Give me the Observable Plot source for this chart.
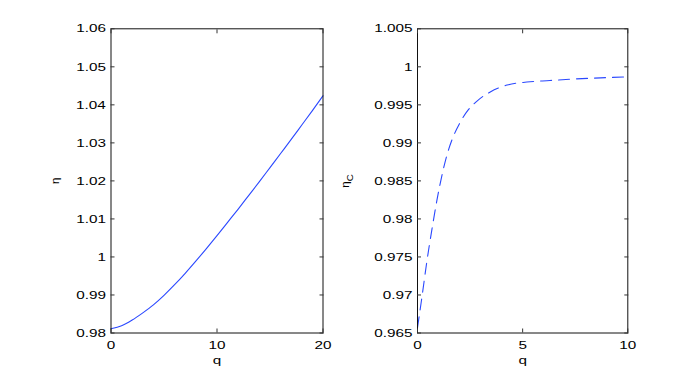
<!DOCTYPE html>
<html>
<head>
<meta charset="utf-8">
<script src="https://cdn.jsdelivr.net/npm/d3@7"></script>
<script src="https://cdn.jsdelivr.net/npm/@observablehq/plot@0.6"></script>
<style>
  html, body { margin: 0; padding: 0; background: #fff; }
  #wrap { display: flex; width: 692px; height: 374px; overflow: hidden; }
  #wrap svg { display: block; }
</style>
</head>
<body>
<div id="wrap"></div>
<script>
// ---- Left panel: eta vs q ----
const leftQ   = [0, 1, 2, 3, 4, 5, 6, 7, 8, 9, 10, 11, 12, 13, 14, 15, 16, 17, 18, 19, 20];
const leftEta = [0.9811, 0.9819, 0.9834, 0.9853, 0.9874, 0.9899, 0.9927, 0.9957, 0.9989, 1.0022,
                 1.0056, 1.0091, 1.0126, 1.0162, 1.0198, 1.0235, 1.0272, 1.0309, 1.0347, 1.0385, 1.0424];
const leftXTicks = [0, 10, 20];
const leftYTicks = [0.98, 0.99, 1.00, 1.01, 1.02, 1.03, 1.04, 1.05, 1.06];

// ---- Right panel: eta_C vs q ----
const rightQ    = [0, 0.21, 0.45, 0.69, 0.92, 1.16, 1.4, 1.64, 2.03, 2.43, 2.83, 3.46, 4.26, 5.2, 6.3, 7.43, 8.7, 10];
const rightEtaC = [0.9657, 0.9697, 0.9745, 0.9787, 0.9824, 0.9857, 0.9884, 0.9904, 0.9927, 0.9944,
                   0.9955, 0.9967, 0.9976, 0.9980, 0.9982, 0.9984, 0.99855, 0.99868];
const rightXTicks = [0, 5, 10];
const rightYTicks = [0.965, 0.97, 0.975, 0.98, 0.985, 0.99, 0.995, 1.00, 1.005];

const fmt = d => String(+(+d).toFixed(3));
const blank = () => "";
const lineColor = "#2a48ff";

function panel({q, v, xTicks, yTicks, w, ml, mr, lo, dash}) {
  return Plot.plot({
    width: w, height: 374,
    marginLeft: ml, marginRight: mr, marginTop: 28.3, marginBottom: 41.5,
    x: {domain: [xTicks[0], xTicks[xTicks.length - 1]]},
    y: {domain: [yTicks[0], yTicks[yTicks.length - 1]]},
    style: {fontFamily: "'Liberation Sans', Arial, sans-serif", fontSize: "11.5px", color: "#000", background: "#fff"},
    marks: [
      Plot.line(q.map((d, i) => ({q: d, v: v[i]})), {x: "q", y: "v", curve: "monotone-x",
        stroke: lineColor, strokeWidth: 1.1, strokeDasharray: dash}),
      Plot.frame({stroke: "#111", strokeWidth: 1}),
      Plot.axisX(xTicks, {anchor: "bottom", tickSize: 0, tickPadding: 8, tickFormat: fmt,
        label: "q", labelAnchor: "center", labelArrow: "none", labelOffset: 31}),
      Plot.axisX(xTicks, {anchor: "bottom", tickSize: -4, tickFormat: blank, label: null, stroke: "#333"}),
      Plot.axisX(xTicks, {anchor: "top", tickSize: -4, tickFormat: blank, label: null, stroke: "#333"}),
      Plot.axisY(yTicks, {anchor: "left", tickSize: 0, tickPadding: 5, tickFormat: fmt,
        label: "η", labelAnchor: "center", labelArrow: "none", labelOffset: lo}),
      Plot.axisY(yTicks, {anchor: "left", tickSize: -4, tickFormat: blank, label: null, stroke: "#333"}),
      Plot.axisY(yTicks, {anchor: "right", tickSize: -4, tickFormat: blank, label: null, stroke: "#333"})
    ]
  });
}

const wrap = document.getElementById("wrap");
const p1 = panel({q: leftQ, v: leftEta, xTicks: leftXTicks, yTicks: leftYTicks, w: 336, ml: 110.5, mr: 13.5, lo: 60, dash: null});
const p2 = panel({q: rightQ, v: rightEtaC, xTicks: rightXTicks, yTicks: rightYTicks, w: 356, ml: 81, mr: 64.7, lo: 77, dash: "11,7"});
wrap.appendChild(p1);
wrap.appendChild(p2);

// subscript C on the second y label
d3.select(p2).selectAll('g[aria-label="y-axis label"] text').each(function () {
  d3.select(this).append("tspan").attr("dy", "0.4em").attr("font-size", "0.85em").text("C");
});

// horizontally stretch tick labels and the x label (as in the reference export)
const sx = 1.33;
function stretch(t, anchor) {
  if (!t.textContent) return;
  const b = t.getBBox();
  const ax = anchor === "end" ? b.x + b.width : b.x + b.width / 2;
  const tr = t.getAttribute("transform") || "";
  t.setAttribute("transform", `${tr} translate(${ax},0) scale(${sx},1) translate(${-ax},0)`);
}
for (const svg of [p1, p2]) {
  svg.querySelectorAll('g[aria-label="y-axis tick label"] text').forEach(t => stretch(t, "end"));
  svg.querySelectorAll('g[aria-label="x-axis tick label"] text').forEach(t => stretch(t, "middle"));
  svg.querySelectorAll('g[aria-label="x-axis label"] text').forEach(t => stretch(t, "middle"));
}
</script>
</body>
</html>
